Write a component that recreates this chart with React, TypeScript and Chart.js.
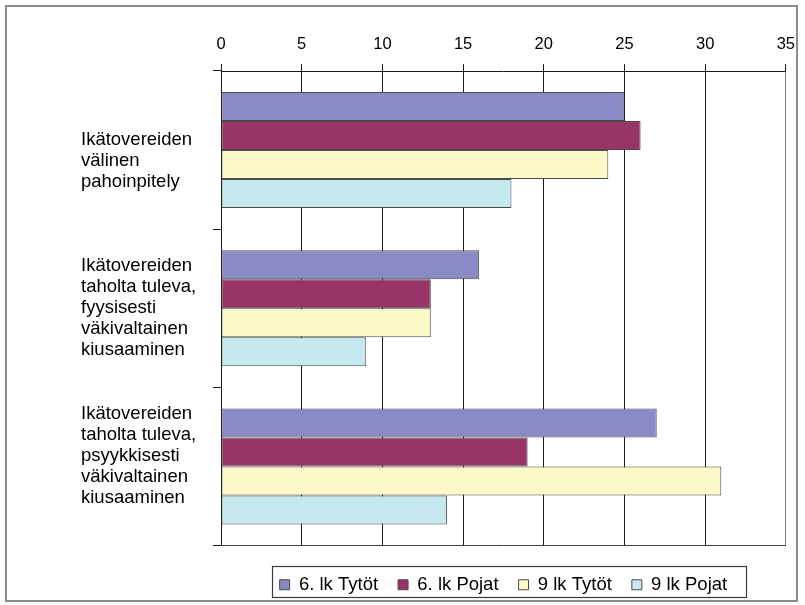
import React, { useEffect, useRef } from "react";
import { Chart, registerables } from "chart.js";

Chart.register(...registerables);

// Category labels (multi-line; empty lines keep the Excel-like vertical placement)
const categories: string[][] = [
  ["", "Ikätovereiden", "välinen", "pahoinpitely"],
  ["Ikätovereiden", "taholta tuleva,", "fyysisesti", "väkivaltainen", "kiusaaminen"],
  ["Ikätovereiden", "taholta tuleva,", "psyykkisesti", "väkivaltainen", "kiusaaminen", ""],
];

const seriesNames = ["6. lk Tytöt", "6. lk Pojat", "9 lk Tytöt", "9 lk Pojat"];
const tytot6 = [25, 16, 27];
const pojat6 = [26, 13, 19];
const tytot9 = [24, 13, 31];
const pojat9 = [18, 9, 14];
const seriesColors = ["#8a8ac6", "#993467", "#fcf9c9", "#c6e8ef"];

const xMin = 0;
const xMax = 35;
const xStep = 5;

const FONT = "'Liberation Sans', Arial, Helvetica, sans-serif";

const legendFramePlugin = {
  id: "legendFrame",
  afterDraw(chart: any) {
    const lg = chart.legend;
    if (!lg || !lg.legendHitBoxes || !lg.legendHitBoxes.length) return;
    const hb = lg.legendHitBoxes;
    const first = hb[0];
    const last = hb[hb.length - 1];
    const left = first.left - 8;
    const right = last.left + last.width + 18;
    const top = first.top - 9.5;
    const bottom = first.top + 21.5;
    const ctx = chart.ctx;
    ctx.save();
    ctx.strokeStyle = "#3a3a3a";
    ctx.lineWidth = 1.2;
    ctx.strokeRect(Math.round(left) + 0.5, Math.round(top) + 0.5, Math.round(right - left), Math.round(bottom - top));
    ctx.restore();
  },
};

export default function App() {
  const canvasRef = useRef<HTMLCanvasElement | null>(null);

  useEffect(() => {
    if (!canvasRef.current) return;
    const values = [tytot6, pojat6, tytot9, pojat9];
    const chart = new Chart(canvasRef.current, {
      type: "bar",
      data: {
        labels: categories,
        datasets: seriesNames.map((name, i) => ({
          label: name,
          data: values[i],
          backgroundColor: seriesColors[i],
          borderColor: "#4a4a4a",
          borderWidth: 1,
          borderSkipped: false,
          categoryPercentage: 0.733,
          barPercentage: 1.0,
        })),
      },
      options: {
        indexAxis: "y",
        responsive: false,
        animation: false,
        devicePixelRatio: 1,
        layout: { padding: { left: 81, top: 10, right: 18, bottom: 1 } },
        plugins: {
          tooltip: { enabled: false },
          legend: {
            position: "bottom",
            fullSize: false,
            labels: {
              boxWidth: 10,
              boxHeight: 10,
              padding: 20,
              color: "#000",
              font: { family: FONT, size: 18.5 },
            },
          },
        },
        scales: {
          x: {
            type: "linear",
            position: "top",
            min: xMin,
            max: xMax,
            ticks: {
              stepSize: xStep,
              color: "#000",
              padding: 10,
              font: { family: FONT, size: 16.5 },
            },
            grid: {
              color: (c: any) => (c.tick && c.tick.value === xMax ? "#7a7a7a" : "#1a1a1a"),
              tickColor: "#1a1a1a",
              tickLength: 7,
              lineWidth: 1,
            },
            border: { color: "#1a1a1a", width: 1 },
            afterFit: (s: any) => {
              s.height = 61;
            },
          },
          x2: {
            type: "linear",
            position: "bottom",
            min: xMin,
            max: xMax,
            ticks: { display: false },
            grid: { display: false, drawTicks: false },
            border: { display: true, color: "#404040", width: 1 },
            afterFit: (s: any) => {
              s.height = 10;
            },
          },
          y: {
            type: "category",
            position: "left",
            offset: true,
            ticks: {
              crossAlign: "far",
              color: "#000",
              font: { family: FONT, size: 18.5, lineHeight: "21px" },
            },
            grid: {
              offset: true,
              drawOnChartArea: false,
              drawTicks: true,
              tickLength: 8,
              color: "#1a1a1a",
              tickColor: "#1a1a1a",
            },
            border: { color: "#1a1a1a", width: 1 },
            afterFit: (s: any) => {
              s.width = 140;
            },
          },
        },
      } as any,
      plugins: [legendFramePlugin],
    });
    return () => chart.destroy();
  }, []);

  return (
    <div style={{ position: "absolute", left: 0, top: 0, width: 805, height: 605, background: "#fff" }}>
      <canvas
        ref={canvasRef}
        width={805}
        height={605}
        style={{ position: "absolute", left: 0, top: 0, width: 805, height: 605 }}
      />
      <div
        style={{
          position: "absolute",
          left: 5,
          top: 5,
          width: 793,
          height: 597,
          border: "2px solid #8c8c8c",
          boxSizing: "border-box",
          pointerEvents: "none",
        }}
      />
    </div>
  );
}
